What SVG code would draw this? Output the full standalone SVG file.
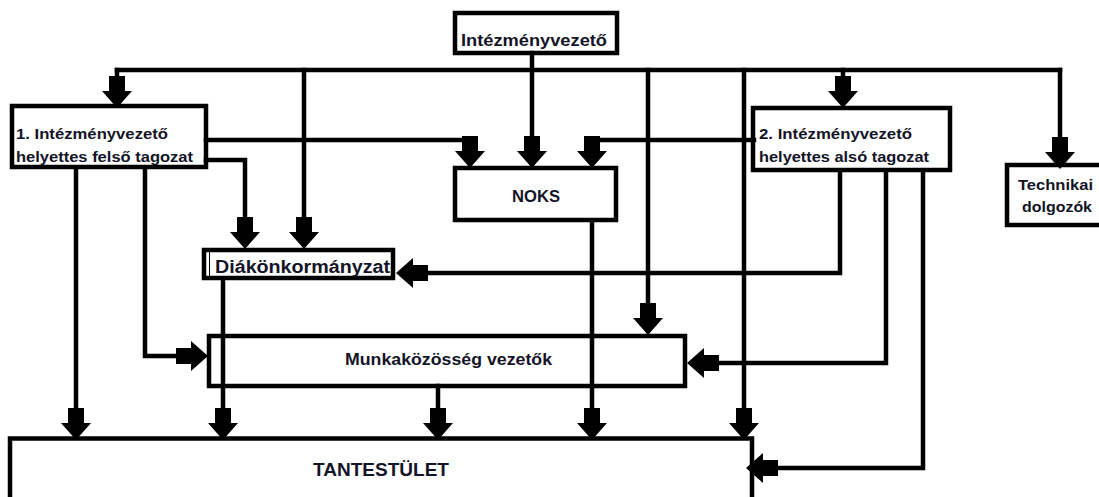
<svg xmlns="http://www.w3.org/2000/svg" width="1099" height="497" viewBox="0 0 1099 497">
<style>
.box{fill:none;stroke:#000;stroke-width:4.5}
.ln{fill:none;stroke:#000;stroke-width:4.5;stroke-linecap:square}
.t{font-family:"Liberation Sans",Arial,sans-serif;font-weight:bold;fill:#141428;font-size:15px}
.ar{fill:#000}
</style>
<defs>
<path id="ad" d="M-8,-32 H8 V-17 H15 L0,0 L-15,-17 H-8 Z"/>
</defs>
<rect width="1099" height="497" fill="#fff"/>
<g id="connectors">
<path class="ln" d="M117,70 H1060"/>
<path class="ln" d="M117,70 V80"/>
<path class="ln" d="M532,53 V140"/>
<path class="ln" d="M304,70 V220"/>
<path class="ln" d="M843,70 V80"/>
<path class="ln" d="M1060,70 V140"/>
<path class="ln" d="M648,70 V305"/>
<path class="ln" d="M744,70 V410"/>
<path class="ln" d="M206,140 H470 V140"/>
<path class="ln" d="M206,160 H245 V220"/>
<path class="ln" d="M76,169 V410"/>
<path class="ln" d="M145,169 V356 H178"/>
<path class="ln" d="M754,140 H592"/>
<path class="ln" d="M840,172 V273 H428"/>
<path class="ln" d="M886,172 V363 H718"/>
<path class="ln" d="M923,172 V468 H778"/>
<path class="ln" d="M223,279 V410"/>
<path class="ln" d="M592,222 V410"/>
<path class="ln" d="M438,386 V410"/>
<g class="ar">
<use href="#ad" transform="translate(117,108)"/>
<use href="#ad" transform="translate(470,168)"/>
<use href="#ad" transform="translate(532,168)"/>
<use href="#ad" transform="translate(592,168)"/>
<use href="#ad" transform="translate(245,249)"/>
<use href="#ad" transform="translate(304,249)"/>
<use href="#ad" transform="translate(396,273) rotate(90)"/>
<use href="#ad" transform="translate(648,335)"/>
<use href="#ad" transform="translate(208,356) rotate(-90)"/>
<use href="#ad" transform="translate(687,363) rotate(90)"/>
<use href="#ad" transform="translate(76,440)"/>
<use href="#ad" transform="translate(223,440)"/>
<use href="#ad" transform="translate(438,440)"/>
<use href="#ad" transform="translate(592,440)"/>
<use href="#ad" transform="translate(744,440)"/>
<use href="#ad" transform="translate(746,468) rotate(90)"/>
<use href="#ad" transform="translate(843,108)"/>
<use href="#ad" transform="translate(1060,169)"/>
</g>
</g>
<g id="n-intezmenyvezeto">
<rect class="box" x="455" y="13" width="162" height="40"/>
<text class="t" x="461" y="46" textLength="146" lengthAdjust="spacingAndGlyphs" style="font-size:17px">Intézményvezető</text>
</g>
<g id="n-helyettes1">
<rect class="box" x="12" y="106" width="194" height="61"/>
<text class="t" x="16" y="139" textLength="152" lengthAdjust="spacingAndGlyphs">1. Intézményvezető</text>
<text class="t" x="16" y="162" textLength="177" lengthAdjust="spacingAndGlyphs">helyettes felső tagozat</text>
</g>
<g id="n-noks">
<rect class="box" x="455" y="168" width="161" height="52"/>
<text class="t" x="512" y="202" textLength="48" lengthAdjust="spacingAndGlyphs" style="font-size:16px">NOKS</text>
</g>
<g id="n-helyettes2">
<rect class="box" x="753" y="108" width="197" height="62"/>
<text class="t" x="759" y="139" textLength="153" lengthAdjust="spacingAndGlyphs">2. Intézményvezető</text>
<text class="t" x="759" y="162" textLength="170" lengthAdjust="spacingAndGlyphs">helyettes alsó tagozat</text>
</g>
<g id="n-technikai">
<rect class="box" x="1007" y="165" width="100" height="60"/>
<text class="t" x="1018" y="190" textLength="75" lengthAdjust="spacingAndGlyphs">Technikai</text>
<text class="t" x="1022" y="212" textLength="70" lengthAdjust="spacingAndGlyphs">dolgozók</text>
</g>
<g id="n-diak">
<rect class="box" x="204" y="250" width="189" height="28"/>
<line x1="209.5" y1="252" x2="209.5" y2="276" stroke="#000" stroke-width="1"/>
<text class="t" x="215" y="273" textLength="175" lengthAdjust="spacingAndGlyphs" style="font-size:17.5px">Diákönkormányzat</text>
</g>
<g id="n-munka">
<rect class="box" x="209" y="336" width="476" height="50"/>
<text class="t" x="345" y="365" textLength="207" lengthAdjust="spacingAndGlyphs" style="font-size:16.5px">Munkaközösség vezetők</text>
</g>
<g id="n-tantestulet">
<rect class="box" x="10" y="438.5" width="742" height="80"/>
<text class="t" x="313" y="476" textLength="136" lengthAdjust="spacingAndGlyphs" style="font-size:19px">TANTESTÜLET</text>
</g>
</svg>
